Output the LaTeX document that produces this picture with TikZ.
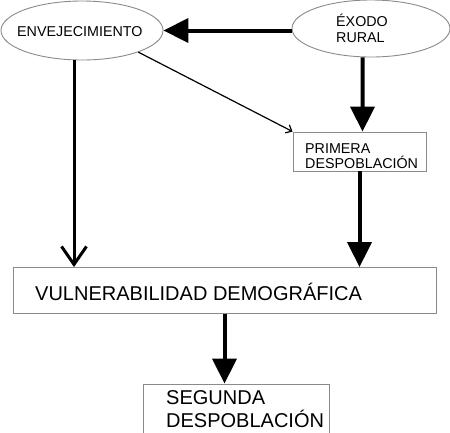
\documentclass[tikz,border=0pt]{standalone}
\usepackage{fontspec}
\setmainfont{Liberation Sans}
\usetikzlibrary{arrows.meta,shapes.geometric}
\definecolor{edgegray}{HTML}{8A8A8A}
\tikzset{
  oval/.style={ellipse,draw=edgegray,line width=0.9bp,inner sep=0pt},
  boxnode/.style={rectangle,draw=edgegray,line width=0.9bp,inner sep=0pt},
  smalltext/.style={anchor=base west,inner sep=0pt,font=\fontsize{14.3bp}{16bp}\selectfont},
  bigtext/.style={anchor=base west,inner sep=0pt,font=\fontsize{20bp}{23bp}\selectfont},
  thickarrow/.style={line width=4bp,-{Triangle[length=25bp,width=24bp]}},
  openarrow/.style={line width=3bp,-{Straight Barb[length=18bp,width=25bp,line width=3bp]}},
  thinarrow/.style={line width=1.2bp,-{Straight Barb[length=5bp,width=9bp,line width=1.2bp]}}
}
\begin{document}
\begin{tikzpicture}[x=1bp,y=-1bp]
\useasboundingbox (0,0) rectangle (450,432);
% shapes
\node[oval,minimum width=162bp,minimum height=59bp] (env) at (82,30.5) {};
\node[oval,minimum width=158bp,minimum height=57bp] (exo) at (371,28.5) {};
\node[boxnode,minimum width=133bp,minimum height=39bp] (prim) at (359.5,151.5) {};
\node[boxnode,minimum width=423bp,minimum height=46bp] (vul) at (224.5,290.5) {};
\node[boxnode,minimum width=186bp,minimum height=60bp] (seg) at (236,414) {};
% texts
\node[smalltext] (envt) at (17,36) {ENVEJECIMIENTO};
\node[smalltext] (exot1) at (336,26) {ÉXODO};
\node[smalltext] (exot2) at (336,42) {RURAL};
\node[smalltext] (primt1) at (305,153) {PRIMERA};
\node[smalltext] (primt2) at (305,168) {DESPOBLACIÓN};
\node[bigtext] (vult) at (35,300) {VULNERABILIDAD DEMOGRÁFICA};
\node[bigtext] (segt1) at (166,404) {SEGUNDA};
\node[bigtext] (segt2) at (166,427) {DESPOBLACIÓN};
% connectors
\draw[thickarrow] (env.east -| exo.west) -- (env.east);
\draw[thickarrow] ([xshift=-8.5bp]exo.south) -- ([xshift=3bp]prim.north);
\draw[thickarrow] (prim.south) -- (prim.south |- vul.north);
\draw[thickarrow] (vul.south) -- (vul.south |- seg.north);
\coordinate (e1) at ([xshift=-8bp]env.south);
\draw[openarrow] (e1) -- (e1 |- vul.north);
\draw[thinarrow] (env.-21.35) -- (prim.north west);
\end{tikzpicture}
\end{document}
